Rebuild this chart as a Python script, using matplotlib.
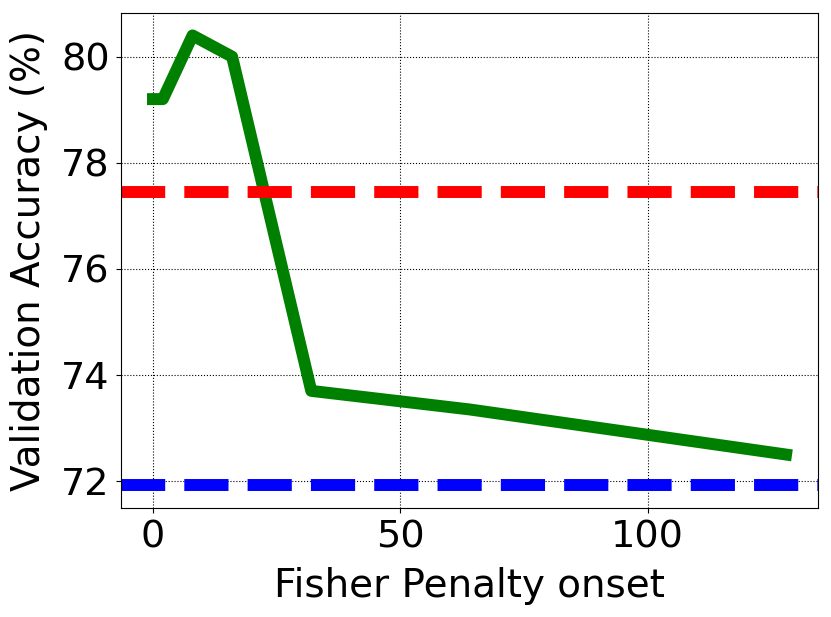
import matplotlib
matplotlib.use("Agg")
from matplotlib import pyplot as plt

onset = [0, 2, 8, 16, 32, 64, 128]
accuracy = [79.2, 79.2, 80.4, 80.0, 73.7, 73.35, 72.5]
baseline_red = 77.45
baseline_blue = 71.92

fig, ax = plt.subplots(figsize=(8.31, 6.17), dpi=100)
fig.subplots_adjust(left=0.146, right=0.984, top=0.979, bottom=0.177)

ax.plot(onset, accuracy, color="green", linewidth=8.6)
ax.axhline(baseline_red, color="red", linestyle="--", linewidth=8.6)
ax.axhline(baseline_blue, color="blue", linestyle="--", linewidth=8.6)
ax.plot([onset[0], onset[-1]], [baseline_blue, baseline_blue], alpha=0)

ax.grid(color="black", linestyle=":", linewidth=0.8)
ax.tick_params(labelsize=27.5, pad=5)
ax.set_xlabel("Fisher Penalty onset", fontsize=28, labelpad=8)
ax.set_ylabel("Validation Accuracy (%)", fontsize=28, labelpad=9)
ax.set_xticks([0, 50, 100])
ax.set_yticks([72, 74, 76, 78, 80])

fig.savefig("out.png")
